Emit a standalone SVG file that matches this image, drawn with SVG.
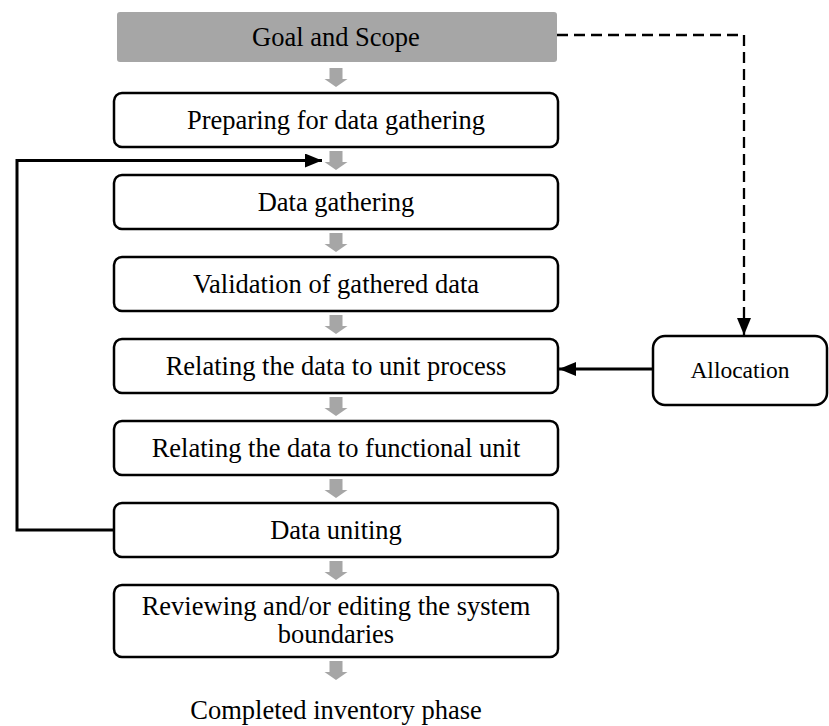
<svg xmlns="http://www.w3.org/2000/svg" width="829" height="726" viewBox="0 0 829 726">
  <style>
    .box { fill: #ffffff; stroke: #000000; stroke-width: 2.5; }
    .label { font-family: "Liberation Serif", "Times New Roman", serif; font-size: 26.5px; fill: #000000; text-anchor: middle; dominant-baseline: central; }
    .small { font-size: 23.5px; }
    .flow { fill: #a6a6a6; }
    .link { fill: none; stroke: #000000; stroke-width: 3; }
    .dash { fill: none; stroke: #000000; stroke-width: 2.3; stroke-dasharray: 11 6; }
  </style>
  <defs>
    <marker id="head" viewBox="0 0 17 14" refX="17" refY="7" markerWidth="17" markerHeight="14" markerUnits="userSpaceOnUse" orient="auto">
      <path d="M0,0 L17,7 L0,14 Z" fill="#000000"/>
    </marker>
    <!-- block arrow between process steps -->
    <path id="down" d="M-6.5,0 H6.5 V11 H11.5 L0,19 L-11.5,11 H-6.5 Z"/>
  </defs>

  <!-- connectors -->
  <g id="connectors">
    <use href="#down" class="flow" x="336" y="68"/>
    <use href="#down" class="flow" x="336" y="151"/>
    <use href="#down" class="flow" x="336" y="233"/>
    <use href="#down" class="flow" x="336" y="315"/>
    <use href="#down" class="flow" x="336" y="397"/>
    <use href="#down" class="flow" x="336" y="479"/>
    <use href="#down" class="flow" x="336" y="561"/>
    <use href="#down" class="flow" x="336" y="661"/>
    <!-- feedback loop from data uniting back to data gathering -->
    <path class="link" d="M114,530 H17 V160.5 H322" marker-end="url(#head)"/>
    <!-- allocation feeds the unit process step -->
    <path class="link" d="M653,369 H559" marker-end="url(#head)"/>
    <!-- goal and scope drives allocation -->
    <path class="dash" d="M557,35 H744 V335" marker-end="url(#head)"/>
  </g>

  <g id="goal-scope">
    <rect x="117" y="12" width="440" height="50" rx="3" fill="#a6a6a6"/>
    <text class="label" x="336" y="37">Goal and Scope</text>
  </g>
  <g id="preparing">
    <rect class="box" x="114" y="93" width="444" height="54" rx="8"/>
    <text class="label" x="336" y="120">Preparing for data gathering</text>
  </g>
  <g id="data-gathering">
    <rect class="box" x="114" y="175" width="444" height="54" rx="8"/>
    <text class="label" x="336" y="202">Data gathering</text>
  </g>
  <g id="validation">
    <rect class="box" x="114" y="257" width="444" height="54" rx="8"/>
    <text class="label" x="336" y="284">Validation of gathered data</text>
  </g>
  <g id="unit-process">
    <rect class="box" x="114" y="339" width="444" height="54" rx="8"/>
    <text class="label" x="336" y="366">Relating the data to unit process</text>
  </g>
  <g id="functional-unit">
    <rect class="box" x="114" y="421" width="444" height="54" rx="8"/>
    <text class="label" x="336" y="448">Relating the data to functional unit</text>
  </g>
  <g id="data-uniting">
    <rect class="box" x="114" y="503" width="444" height="54" rx="8"/>
    <text class="label" x="336" y="530">Data uniting</text>
  </g>
  <g id="reviewing">
    <rect class="box" x="114" y="585" width="444" height="72" rx="8"/>
    <text class="label" x="336" y="606">Reviewing and/or editing the system</text>
    <text class="label" x="336" y="634">boundaries</text>
  </g>
  <g id="allocation">
    <rect class="box" x="653" y="336" width="174" height="69" rx="12"/>
    <text class="label small" x="740" y="370">Allocation</text>
  </g>
  <g id="completed">
    <text class="label" x="336" y="710">Completed inventory phase</text>
  </g>
</svg>
